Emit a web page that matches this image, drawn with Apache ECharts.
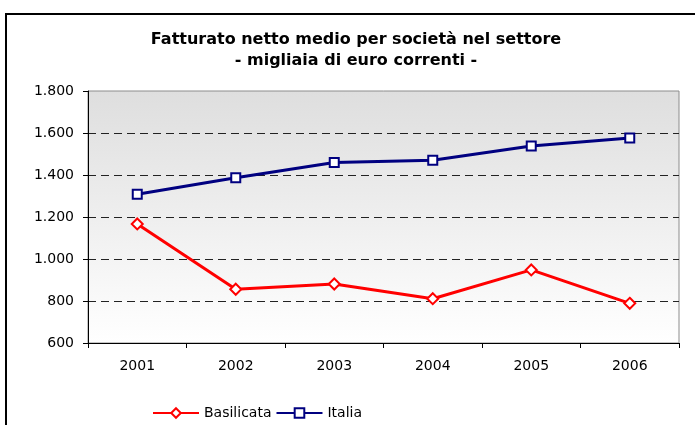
<!DOCTYPE html>
<html>
<head>
<meta charset="utf-8">
<script src="https://cdn.jsdelivr.net/npm/echarts@6/dist/echarts.min.js"></script>
<style>
html,body{margin:0;padding:0;background:#fff;overflow:hidden;}
#c{width:695px;height:425px;}
</style>
</head>
<body>
<div id="c"></div>
<script>
var categories = ['2001', '2002', '2003', '2004', '2005', '2006'];
var basilicata = [1167, 856, 881, 811, 948, 789];
var italia = [1308, 1387, 1460, 1470, 1538, 1576];
var titleLines = ['Fatturato netto medio per società nel settore', '- migliaia di euro correnti -'];
var seriesNames = ['Basilicata', 'Italia'];

var chart = echarts.init(document.getElementById('c'), null, {renderer: 'canvas'});
function fmt(v) {
  return String(v).replace(/\B(?=(\d{3})+(?!\d))/g, '.');
}
var font = 'DejaVu Sans';
chart.setOption({
  animation: false,
  backgroundColor: '#ffffff',
  textStyle: {fontFamily: font},
  graphic: [
    {type: 'line', shape: {x1: 6, y1: 14, x2: 6, y2: 440}, style: {stroke: '#000', lineWidth: 2}, silent: true},
    {type: 'line', shape: {x1: 5, y1: 14, x2: 760, y2: 14}, style: {stroke: '#000', lineWidth: 2}, silent: true},
    {type: 'text', x: 356, y: 40, style: {text: titleLines[0], font: 'bold 16px "DejaVu Sans"', fill: '#000', align: 'center', verticalAlign: 'middle'}},
    {type: 'text', x: 356, y: 61, style: {text: titleLines[1], font: 'bold 16px "DejaVu Sans"', fill: '#000', align: 'center', verticalAlign: 'middle'}}
  ],
  grid: {
    left: 88, right: 16, top: 91, bottom: 82,
    show: true,
    borderColor: '#8c8c8c',
    borderWidth: 1,
    backgroundColor: new echarts.graphic.LinearGradient(0, 0, 0, 1, [
      {offset: 0, color: '#dedede'},
      {offset: 1, color: '#ffffff'}
    ])
  },
  legend: {
    left: 147, top: 401,
    itemWidth: 46, itemHeight: 12, itemGap: 4,
    textStyle: {fontFamily: font, fontSize: 14, color: '#000'},
    data: seriesNames
  },
  xAxis: {
    type: 'category',
    data: categories,
    boundaryGap: true,
    axisLine: {lineStyle: {color: '#000', width: 1}},
    axisTick: {show: true, length: 5, lineStyle: {color: '#000'}},
    axisLabel: {fontFamily: font, fontSize: 14, color: '#000', margin: 16},
    splitLine: {show: false}
  },
  yAxis: {
    type: 'value',
    min: 600, max: 1800, interval: 200,
    axisLine: {show: true, lineStyle: {color: '#000', width: 1}},
    axisTick: {show: true, length: 5, lineStyle: {color: '#000'}},
    axisLabel: {fontFamily: font, fontSize: 14, color: '#000', margin: 14, formatter: fmt},
    splitLine: {show: true, showMinLine: false, showMaxLine: false, lineStyle: {color: '#222', type: [8, 5], width: 1}}
  },
  series: [
    {
      name: seriesNames[0], type: 'line', data: basilicata,
      symbol: 'diamond', symbolSize: 11, showAllSymbol: true,
      lineStyle: {color: '#ff0000', width: 3},
      itemStyle: {color: '#ffffff', borderColor: '#ff0000', borderWidth: 2},
      z: 3
    },
    {
      name: seriesNames[1], type: 'line', data: italia,
      symbol: 'rect', symbolSize: 9, showAllSymbol: true,
      lineStyle: {color: '#000080', width: 3},
      itemStyle: {color: '#ffffff', borderColor: '#000080', borderWidth: 2},
      z: 3
    }
  ]
});
</script>
</body>
</html>
